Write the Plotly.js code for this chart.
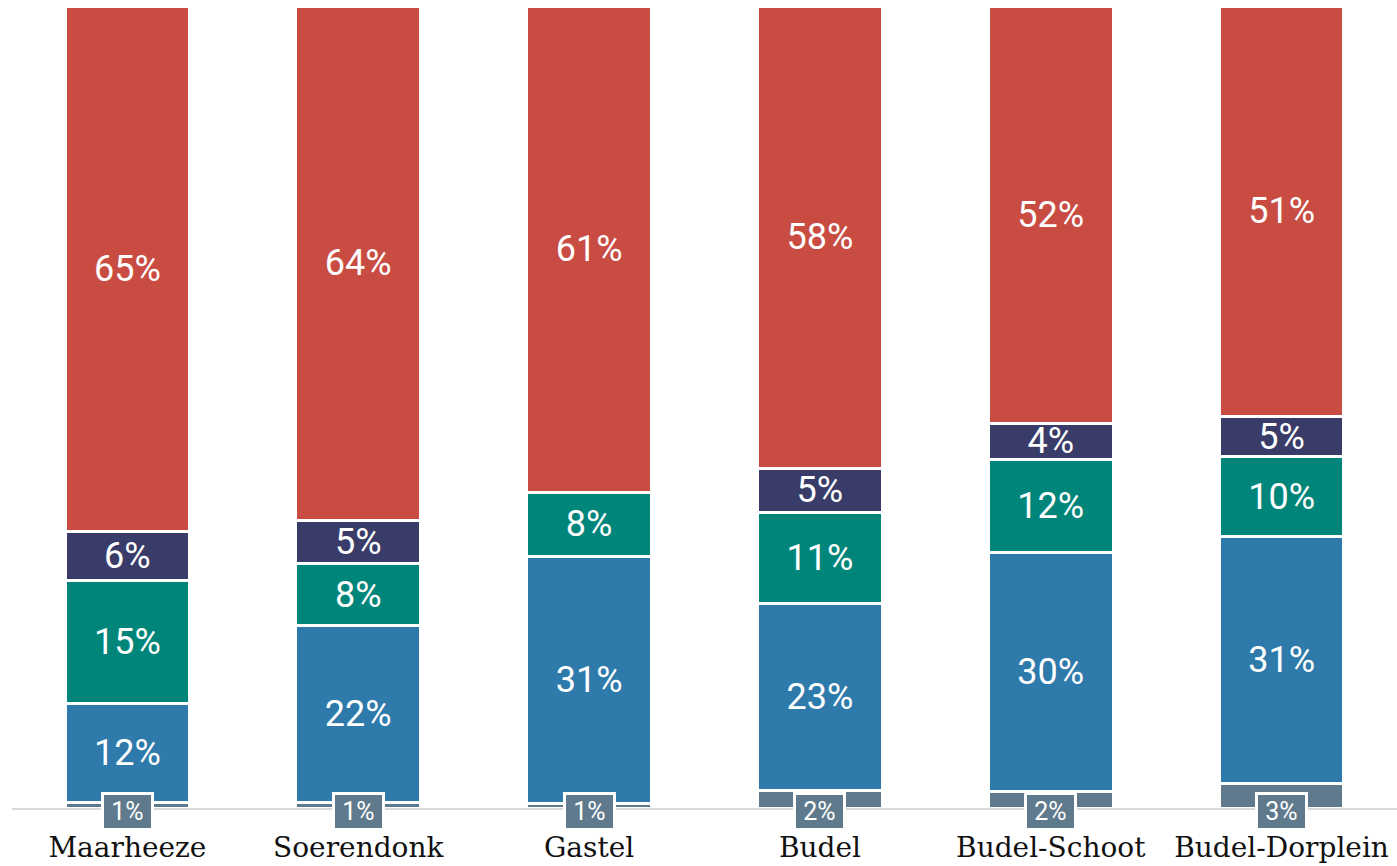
<!DOCTYPE html>
<html>
<head>
<meta charset="utf-8">
<script src="https://cdn.plot.ly/plotly-3.0.1.min.js"></script>
<style>
  html, body { margin: 0; padding: 0; background: #ffffff; }
  #chart { width: 1397px; height: 866px; }
</style>
</head>
<body>
<div id="chart"></div>
<script>
// Categories (villages)
const categories = ["Maarheeze", "Soerendonk", "Gastel", "Budel", "Budel-Schoot", "Budel-Dorplein"];

// Series values (percent), bottom to top
const greyValues  = [0.7, 0.7, 0.6, 2.2, 2.0, 3.0];
const blueValues  = [12.3, 22.0, 30.8, 23.3, 29.8, 30.8];
const greenValues = [15.3, 7.8, 8.0, 11.4, 11.7, 10.0];
const navyValues  = [6.2, 5.4, 0.0, 5.4, 4.4, 5.0];
const redValues   = [65.4, 64.1, 60.6, 57.7, 52.1, 51.2];

const colors = {
  grey: "#5f7a8c",
  blue: "#2e7aab",
  green: "#00857a",
  navy: "#393b68",
  red: "#c94c43"
};

function labels(vals) {
  return vals.map(v => v > 0 ? Math.round(v) + "%" : "");
}

function barTrace(name, vals, color, showText) {
  return {
    type: "bar",
    name: name,
    x: categories,
    y: vals,
    marker: { color: color, line: { color: "#ffffff", width: 3 } },
    text: showText ? labels(vals) : vals.map(() => ""),
    texttemplate: "%{text}",
    textposition: showText ? "inside" : "none",
    insidetextanchor: "middle",
    constraintext: "none",
    textfont: { family: "Roboto, 'Open Sans', sans-serif", size: 36, color: "#ffffff" },
    hoverinfo: "skip"
  };
}

const data = [
  barTrace("grey", greyValues, colors.grey, false),
  barTrace("blue", blueValues, colors.blue, true),
  barTrace("green", greenValues, colors.green, true),
  barTrace("navy", navyValues, colors.navy, true),
  barTrace("red", redValues, colors.red, true)
];

const annotations = categories.map((c, i) => ({
  x: c,
  y: 0,
  xref: "x",
  yref: "y",
  text: Math.round(greyValues[i]) + "%",
  showarrow: false,
  yanchor: "middle",
  yshift: -3,
  font: { family: "Roboto, 'Open Sans', sans-serif", size: 25, color: "#ffffff" },
  bgcolor: colors.grey,
  bordercolor: "#ffffff",
  borderwidth: 3,
  borderpad: 3,
  width: 41,
  height: 27
}));

const layout = {
  width: 1397,
  height: 866,
  margin: { l: 12, r: 0, t: 6, b: 58 },
  paper_bgcolor: "#ffffff",
  plot_bgcolor: "#ffffff",
  barmode: "stack",
  barnorm: "percent",
  bargap: 0.46,
  showlegend: false,
  xaxis: {
    showgrid: false,
    zeroline: false,
    showline: true,
    linecolor: "#d9d9d9",
    linewidth: 2,
    ticks: "",
    ticklabelstandoff: 13,
    tickfont: { family: "'DejaVu Serif', 'Liberation Serif', serif", size: 28, color: "#111111" },
    fixedrange: true
  },
  yaxis: {
    range: [0, 100],
    showgrid: false,
    zeroline: false,
    showline: false,
    showticklabels: false,
    ticks: "",
    fixedrange: true
  },
  annotations: annotations
};

Plotly.newPlot("chart", data, layout, { displayModeBar: false, staticPlot: true });
</script>
</body>
</html>
